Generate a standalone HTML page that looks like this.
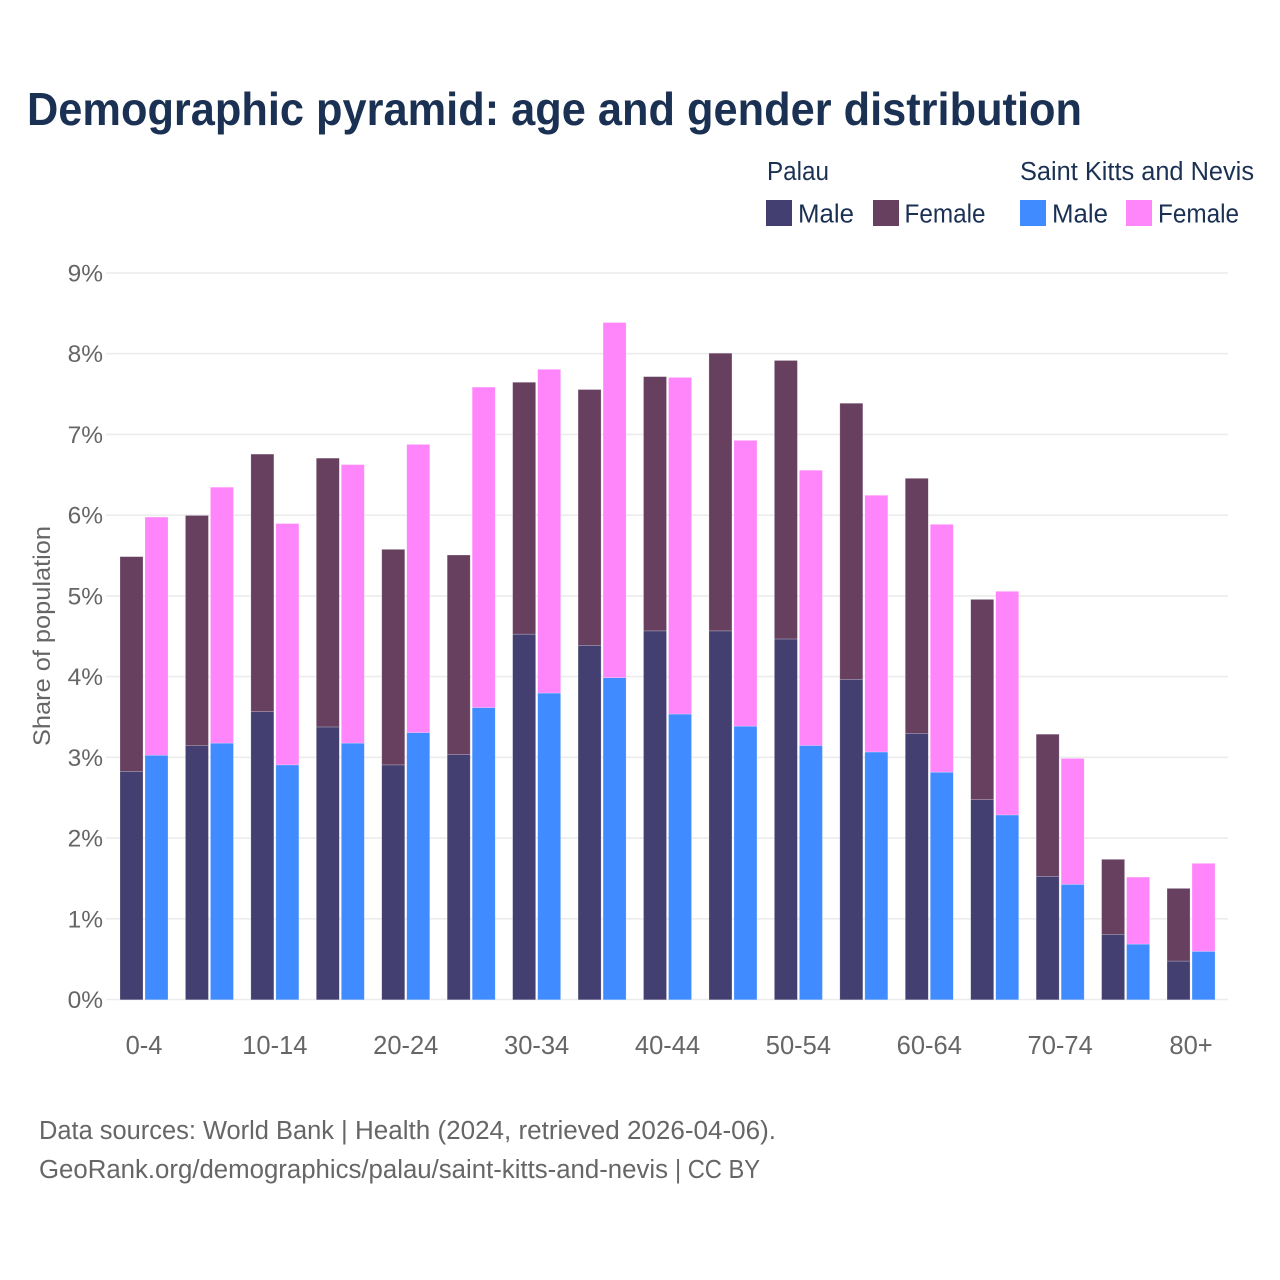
<!DOCTYPE html>
<html lang="en">
<head>
<meta charset="utf-8">
<title>Demographic pyramid: age and gender distribution</title>
<style>
html,body{margin:0;padding:0;background:#fff;}
svg{display:block;font-family:"Liberation Sans",sans-serif;}
</style>
</head>
<body>
<svg id="chart" xmlns="http://www.w3.org/2000/svg" width="1280" height="1280" viewBox="0 0 1280 1280">
  <rect x="0" y="0" width="1280" height="1280" fill="#ffffff"/>
  <text x="27" y="125" font-size="46" font-weight="700" fill="#1b3153" textLength="1055" lengthAdjust="spacingAndGlyphs">Demographic pyramid: age and gender distribution</text>

  <g font-size="25.5" fill="#1b3153">
    <text x="767" y="180" textLength="62" lengthAdjust="spacingAndGlyphs">Palau</text>
    <text x="1020" y="180" textLength="234" lengthAdjust="spacingAndGlyphs">Saint Kitts and Nevis</text>
    <rect x="766" y="200" width="26" height="26" fill="#433f70"/>
    <text x="798" y="222.5" textLength="56" lengthAdjust="spacingAndGlyphs">Male</text>
    <rect x="873" y="200" width="26" height="26" fill="#674060"/>
    <text x="904.5" y="222.5" textLength="81" lengthAdjust="spacingAndGlyphs">Female</text>
    <rect x="1020" y="200" width="26" height="26" fill="#408bff"/>
    <text x="1052" y="222.5" textLength="56" lengthAdjust="spacingAndGlyphs">Male</text>
    <rect x="1126" y="200" width="26" height="26" fill="#ff85fa"/>
    <text x="1158" y="222.5" textLength="81" lengthAdjust="spacingAndGlyphs">Female</text>
  </g>

  <g id="grid"></g>
  <g id="yticks"></g>
  <g id="bars" transform="translate(0,0.3)"></g>
  <g id="xticks"></g>

  <text transform="translate(50,636) rotate(-90)" text-anchor="middle" font-size="24" fill="#666666" textLength="220" lengthAdjust="spacingAndGlyphs">Share of population</text>

  <g font-size="25.5" fill="#666666">
    <text x="39" y="1139" textLength="295" lengthAdjust="spacingAndGlyphs">Data sources: World Bank</text>
    <text x="341" y="1139" textLength="435" lengthAdjust="spacingAndGlyphs">| Health (2024, retrieved 2026-04-06).</text>
    <text x="39" y="1178" textLength="629" lengthAdjust="spacingAndGlyphs">GeoRank.org/demographics/palau/saint-kitts-and-nevis</text>
    <text x="675" y="1178" textLength="85" lengthAdjust="spacingAndGlyphs">| CC BY</text>
  </g>
</svg>
<script>
var categories = ["0-4","5-9","10-14","15-19","20-24","25-29","30-34","35-39","40-44","45-49","50-54","55-59","60-64","65-69","70-74","75-79","80+"];
var categoryLabels = ["0-4","","10-14","","20-24","","30-34","","40-44","","50-54","","60-64","","70-74","","80+"];
var palauMale = [2.83,3.15,3.57,3.38,2.91,3.04,4.53,4.39,4.57,4.57,4.47,3.97,3.30,2.48,1.53,0.81,0.48];
var palauFemale = [2.66,2.85,3.19,3.33,2.67,2.47,3.12,3.17,3.15,3.44,3.45,3.42,3.16,2.48,1.76,0.93,0.90];
var sknMale = [3.03,3.18,2.91,3.18,3.31,3.62,3.80,3.99,3.54,3.39,3.15,3.07,2.82,2.29,1.43,0.69,0.60];
var sknFemale = [2.95,3.17,2.99,3.45,3.57,3.97,4.01,4.40,4.17,3.54,3.41,3.18,3.07,2.77,1.56,0.83,1.09];
var yTicks = [0,1,2,3,4,5,6,7,8,9];

var NS = "http://www.w3.org/2000/svg";
var plotLeft = 106, plotRight = 1228, yZero = 999.5, yNine = 273;
var groupStart = 120, groupStep = 65.44, barWidth = 23, barOffset = 25;

function yScale(v) { return yZero - v * (yZero - yNine) / 9; }
function xScale(i) { return groupStart + i * groupStep; }
function make(tag, parent, attrs) {
  var el = document.createElementNS(NS, tag);
  for (var k in attrs) el.setAttribute(k, attrs[k]);
  parent.appendChild(el);
  return el;
}

var grid = document.getElementById("grid");
var yticks = document.getElementById("yticks");
var bars = document.getElementById("bars");
var xticks = document.getElementById("xticks");

yTicks.forEach(function (t) {
  var line = make("line", grid, {x1: plotLeft, x2: plotRight, y1: yScale(t), y2: yScale(t), stroke: "#ececec", "stroke-width": 1.6});
  
  
  var label = make("text", yticks, {x: 103, y: yScale(t) + 8.5, "text-anchor": "end", "font-size": 24.5, fill: "#666666"});
  
  
  label.textContent = t + "%";
});

function drawBar(x, from, to, fill) {
  var top = yScale(to), bottom = yScale(from);
  var r = make("rect", bars, {x: x, y: top, width: barWidth, height: bottom - top, fill: fill, stroke: "#ffffff", "stroke-opacity": 0.35, "stroke-width": 0.6});
  
  
}

categories.forEach(function (c, i) {
  var x = xScale(i);
  drawBar(x, 0, palauMale[i], "#433f70");
  drawBar(x, palauMale[i], palauMale[i] + palauFemale[i], "#674060");
  drawBar(x + barOffset, 0, sknMale[i], "#408bff");
  drawBar(x + barOffset, sknMale[i], sknMale[i] + sknFemale[i], "#ff85fa");
  if (categoryLabels[i]) {
    var label = make("text", xticks, {x: x + 24, y: 1054, "text-anchor": "middle", "font-size": 25.5, fill: "#666666"});
    
    
    label.textContent = categoryLabels[i];
  }
});
</script>
</body>
</html>
